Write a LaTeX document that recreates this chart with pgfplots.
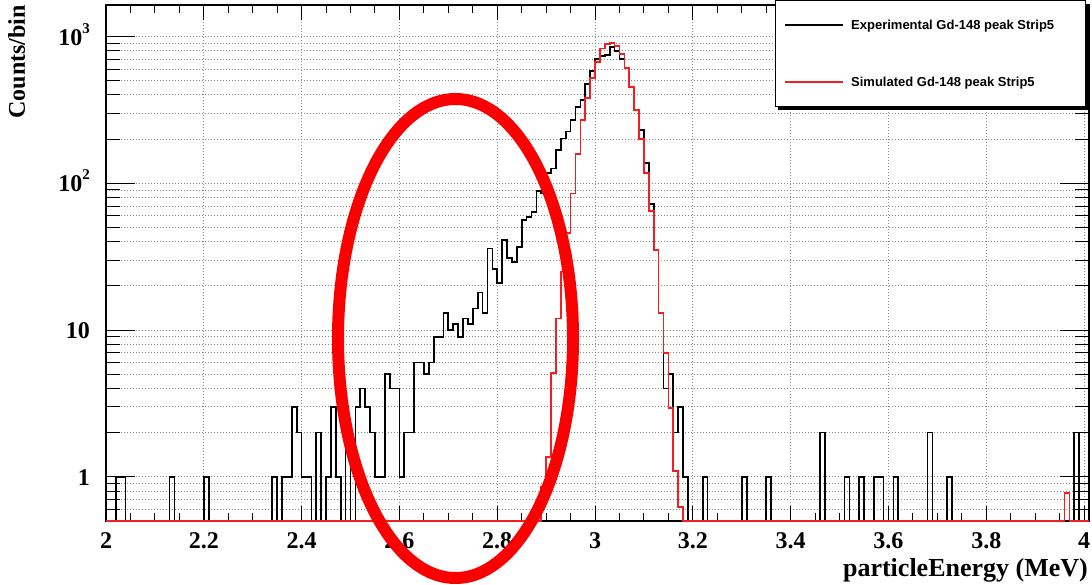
\documentclass[border=0pt]{standalone}
\usepackage{fontspec}
\setmainfont{Liberation Serif}
\newfontfamily\legendfont{Liberation Sans}
\usepackage{pgfplots}
\usepackage{pgfplotstable}
\pgfplotsset{compat=1.18}

\definecolor{simred}{RGB}{245,30,30}
\definecolor{markred}{RGB}{250,0,0}
\definecolor{gridgray}{RGB}{140,140,140}

% Gd-148 alpha spectrum, strip 5: counts per 0.01 MeV bin (left bin edge),
% experimental and simulated; the last row closes the final bin.
\pgfplotstableread[row sep=\\]{
E exp sim\\
2.00 0 0\\ 2.01 0 0\\ 2.02 1 0\\ 2.03 1 0\\ 2.04 0 0\\ 2.05 0 0\\ 2.06 0 0\\ 2.07 0 0\\ 2.08 0 0\\ 2.09 0 0\\
2.10 0 0\\ 2.11 0 0\\ 2.12 0 0\\ 2.13 1 0\\ 2.14 0 0\\ 2.15 0 0\\ 2.16 0 0\\ 2.17 0 0\\ 2.18 0 0\\ 2.19 0 0\\
2.20 1 0\\ 2.21 0 0\\ 2.22 0 0\\ 2.23 0 0\\ 2.24 0 0\\ 2.25 0 0\\ 2.26 0 0\\ 2.27 0 0\\ 2.28 0 0\\ 2.29 0 0\\
2.30 0 0\\ 2.31 0 0\\ 2.32 0 0\\ 2.33 0 0\\ 2.34 1 0\\ 2.35 0 0\\ 2.36 1 0\\ 2.37 1 0\\ 2.38 3 0\\ 2.39 2 0\\
2.40 1 0\\ 2.41 1 0\\ 2.42 0 0\\ 2.43 2 0\\ 2.44 0 0\\ 2.45 1 0\\ 2.46 3 0\\ 2.47 1 0\\ 2.48 0 0\\ 2.49 2 0\\
2.50 0 0\\ 2.51 3 0\\ 2.52 4 0\\ 2.53 3 0\\ 2.54 2 0\\ 2.55 1 0\\ 2.56 1 0\\ 2.57 5 0\\ 2.58 4 0\\ 2.59 4 0\\
2.60 1 0\\ 2.61 2 0\\ 2.62 2 0\\ 2.63 6 0\\ 2.64 6 0\\ 2.65 5 0\\ 2.66 6 0\\ 2.67 9 0\\ 2.68 9 0\\ 2.69 13 0\\
2.70 10 0\\ 2.71 11 0\\ 2.72 9 0\\ 2.73 12 0\\ 2.74 11 0\\ 2.75 14 0\\ 2.76 18 0\\ 2.77 13 0\\ 2.78 36 0\\ 2.79 26 0\\
2.80 21 0\\ 2.81 41 0\\ 2.82 31 0\\ 2.83 29 0\\ 2.84 37 0\\ 2.85 56 0\\ 2.86 59 0\\ 2.87 64 0\\ 2.88 89 0\\ 2.89 85 0.85\\
2.90 118 1.36\\ 2.91 126 5.1\\ 2.92 168 12\\ 2.93 202 25\\ 2.94 225 46\\ 2.95 269 85\\ 2.96 331 159\\ 2.97 368 270\\ 2.98 473 383\\ 2.99 583 524\\
3.00 700 673\\ 3.01 735 830\\ 3.02 750 890\\ 3.03 850 905\\ 3.04 800 865\\ 3.05 700 760\\ 3.06 608 608\\ 3.07 454 454\\ 3.08 316 316\\ 3.09 230 200\\
3.10 137 118\\ 3.11 72 65\\ 3.12 35 35\\ 3.13 13 13\\ 3.14 4 7\\ 3.15 5 2.95\\ 3.16 2 1.09\\ 3.17 3 0.62\\ 3.18 1 0\\ 3.19 0 0\\
3.20 0 0\\ 3.21 0 0\\ 3.22 1 0\\ 3.23 0 0\\ 3.24 0 0\\ 3.25 0 0\\ 3.26 0 0\\ 3.27 0 0\\ 3.28 0 0\\ 3.29 0 0\\
3.30 1 0\\ 3.31 0 0\\ 3.32 0 0\\ 3.33 0 0\\ 3.34 0 0\\ 3.35 1 0\\ 3.36 0 0\\ 3.37 0 0\\ 3.38 0 0\\ 3.39 0 0\\
3.40 0 0\\ 3.41 0 0\\ 3.42 0 0\\ 3.43 0 0\\ 3.44 0 0\\ 3.45 0 0\\ 3.46 2 0\\ 3.47 0 0\\ 3.48 0 0\\ 3.49 0 0\\
3.50 0 0\\ 3.51 1 0\\ 3.52 0 0\\ 3.53 0 0\\ 3.54 1 0\\ 3.55 0 0\\ 3.56 0 0\\ 3.57 1 0\\ 3.58 1 0\\ 3.59 0 0\\
3.60 0 0\\ 3.61 1 0\\ 3.62 0 0\\ 3.63 0 0\\ 3.64 0 0\\ 3.65 0 0\\ 3.66 0 0\\ 3.67 0 0\\ 3.68 2 0\\ 3.69 0 0\\
3.70 0 0\\ 3.71 0 0\\ 3.72 1 0\\ 3.73 0 0\\ 3.74 0 0\\ 3.75 0 0\\ 3.76 0 0\\ 3.77 0 0\\ 3.78 0 0\\ 3.79 0 0\\
3.80 0 0\\ 3.81 0 0\\ 3.82 0 0\\ 3.83 0 0\\ 3.84 0 0\\ 3.85 0 0\\ 3.86 0 0\\ 3.87 0 0\\ 3.88 0 0\\ 3.89 0 0\\
3.90 0 0\\ 3.91 0 0\\ 3.92 0 0\\ 3.93 0 0\\ 3.94 0 0\\ 3.95 0 0\\ 3.96 0 0.78\\ 3.97 0 0\\ 3.98 2 0\\ 3.99 0 0\\
4.00 0 0\\ 4.01 0 0\\
}\spectrum

\begin{document}
\begin{tikzpicture}
\useasboundingbox (0,0) rectangle (1092pt,585pt);
\fill[white] (0,0) rectangle (1092pt,585pt);

\begin{axis}[
  at={(106pt,64pt)}, anchor=south west,
  scale only axis, width=983pt, height=516pt,
  xmin=2, xmax=4.01,
  ymode=log, ymin=0.5, ymax=1640,
  clip=false,
  axis line style={line width=1.2pt, black},
  xtick={2,2.2,2.4,2.6,2.8,3,3.2,3.4,3.6,3.8,4},
  xticklabels={2,2.2,2.4,2.6,2.8,3,3.2,3.4,3.6,3.8,4},
  minor x tick num=3,
  ytick={1,10,100,1000},
  yticklabels={1,10,{10\raisebox{12pt}{\fontsize{15}{15}\selectfont 2}},{10\raisebox{12pt}{\fontsize{15}{15}\selectfont 3}}},
  minor ytick={0.6,0.7,0.8,0.9,2,3,4,5,6,7,8,9,20,30,40,50,60,70,80,90,200,300,400,500,600,700,800,900},
  tick align=inside,
  major tick length=15.5pt, minor tick length=7.7pt,
  tick style={line width=1pt, black},
  ytick style={draw=none},
  xmajorgrids, ymajorgrids, yminorgrids,
  major grid style={gridgray, line width=0.9pt, dash pattern=on 0.9pt off 2.1pt},
  minor grid style={gridgray, line width=0.9pt, dash pattern=on 0.9pt off 2.1pt},
  /pgf/number format/assume math mode=true,
  tick label style={font=\bfseries\fontsize{24}{28}\selectfont},
  xticklabel style={anchor=base, inner sep=0pt, yshift=-28pt},
  yticklabel style={anchor=base east, inner sep=0pt, xshift=-16pt, yshift=-8.5pt},
]
\addplot[const plot mark left, black, line width=1.7pt]
  table[x=E, y expr={max(\thisrow{exp},0.5)}] {\spectrum};
\addplot[const plot mark left, simred, line width=1.7pt]
  table[x=E, y expr={max(\thisrow{sim},0.5)}] {\spectrum};
\end{axis}

% longer y ticks on both vertical edges
\begin{axis}[
  at={(106pt,64pt)}, anchor=south west,
  scale only axis, width=983pt, height=516pt,
  xmin=2, xmax=4.01,
  ymode=log, ymin=0.5, ymax=1640,
  axis line style={draw=none},
  xtick=\empty,
  ytick={1,10,100,1000}, yticklabels={},
  minor ytick={0.6,0.7,0.8,0.9,2,3,4,5,6,7,8,9,20,30,40,50,60,70,80,90,200,300,400,500,600,700,800,900},
  tick align=inside,
  major tick length=29pt, minor tick length=14.5pt,
  tick style={line width=1pt, black},
]
\end{axis}

% axis titles
\node[anchor=base east, inner sep=0pt, font=\bfseries\fontsize{26}{30}\selectfont]
  at (1088pt,8pt) {particleEnergy (MeV)};
\node[rotate=90, anchor=base east, inner sep=0pt, font=\bfseries\fontsize{24}{28}\selectfont]
  at (25pt,580pt) {Counts/bin};

% legend box with shadow
\fill[black] (778pt,475pt) rectangle (1088pt,581pt);
\draw[fill=white, line width=1pt] (775pt,478pt) rectangle (1085pt,584pt);
\draw[black, line width=2.6pt] (785pt,560pt) -- (843pt,560pt);
\draw[simred, line width=2.6pt] (785pt,503pt) -- (843pt,503pt);
\node[anchor=base west, inner sep=0pt, font=\legendfont\bfseries\fontsize{13}{15}\selectfont]
  at (851pt,555.5pt) {Experimental Gd-148 peak Strip5};
\node[anchor=base west, inner sep=0pt, font=\legendfont\bfseries\fontsize{13}{15}\selectfont]
  at (851pt,498.5pt) {Simulated Gd-148 peak Strip5};

% highlighted low-energy tail
\draw[markred, line width=12pt] (455.5pt,246.5pt) ellipse [x radius=117.5pt, y radius=239.5pt];
\end{tikzpicture}
\end{document}
